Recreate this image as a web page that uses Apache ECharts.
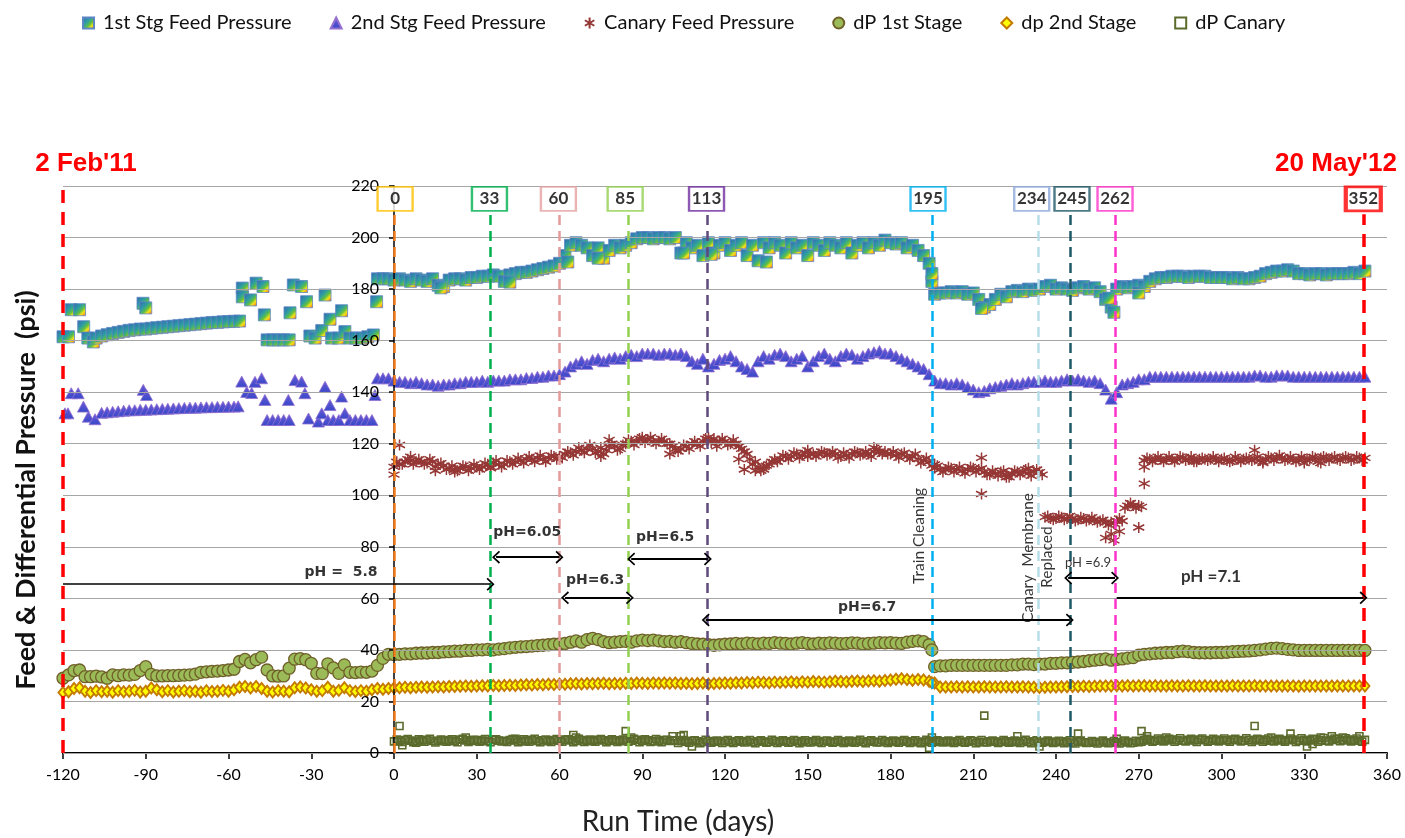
<!DOCTYPE html>
<html>
<head>
<meta charset="utf-8">
<title>Feed &amp; Differential Pressure</title>
<script src="https://cdn.jsdelivr.net/npm/echarts@6.0.0/dist/echarts.min.js"></script>
<style>
  html, body { margin: 0; padding: 0; background: #fff; }
  #chart { width: 1405px; height: 838px; }
</style>
</head>
<body>
<div id="chart"></div>
<script>
// ---- values ----
// run days sampled every 2 days after day 0
const runDays = [
  0,2,4,6,8,10,12,14,16,18, 20,22,24,26,28,30,32,34,36,38,
  40,42,44,46,48,50,52,54,56,58, 60,62,64,66,68,70,72,74,76,78,
  80,82,84,86,88,90,92,94,96,98, 100,102,104,106,108,110,112,114,116,118,
  120,122,124,126,128,130,132,134,136,138, 140,142,144,146,148,150,152,154,156,158,
  160,162,164,166,168,170,172,174,176,178, 180,182,184,186,188,190,192,194,196,198,
  200,202,204,206,208,210,212,214,216,218, 220,222,224,226,228,230,232,234,236,238,
  240,242,244,246,248,250,252,254,256,258, 260,262,264,266,268,270,272,274,276,278,
  280,282,284,286,288,290,292,294,296,298, 300,302,304,306,308,310,312,314,316,318,
  320,322,324,326,328,330,332,334,336,338, 340,342,344,346,348,350,352
];
// the in-between days, where the canary readings are denser
const oddDays = [
  1,3,5,7,9,11,13,15,17,19, 21,23,25,27,29,31,33,35,37,39,
  41,43,45,47,49,51,53,55,57,59, 61,63,65,67,69,71,73,75,77,79,
  81,83,85,87,89,91,93,95,97,99, 101,103,105,107,109,111,113,115,117,119,
  121,123,125,127,129,131,133,135,137,139, 141,143,145,147,149,151,153,155,157,159,
  161,163,165,167,169,171,173,175,177,179, 181,183,185,187,189,191,193,195,197,199,
  201,203,205,207,209,211,213,215,217,219, 221,223,225,227,229,231,233,235,237,239,
  241,243,245,247,249,251,253,255,257,259, 261,263,265,267,269,271,273,275,277,279,
  281,283,285,287,289,291,293,295,297,299, 301,303,305,307,309,311,313,315,317,319,
  321,323,325,327,329,331,333,335,337,339, 341,343,345,347,349,351
];
// days before day 0 (differential pressures only)
const preDays = [
  -120,-118,-116,-114,-112,-110,-108,-106,-104,-102, -100,-98,-96,-94,-92,-90,-88,-86,-84,-82,
  -80,-78,-76,-74,-72,-70,-68,-66,-64,-62, -60,-58,-56,-54,-52,-50,-48,-46,-44,-42,
  -40,-38,-36,-34,-32,-30,-28,-26,-24,-22, -20,-18,-16,-14,-12,-10,-8,-6,-4,-2
];

const stg1Feed = [
  183.5,184,183.5,183,184,183.5,183,184,181.5,181, 183.5,184,184,183.5,184.5,184.5,185,185,185.5,185,
  183,185.5,186,186.5,186.5,187,187.5,188,188.5,189, 190,193,197,198,197,196,193,196,192,195,
  197,196,197,198,199.5,200,200,199.5,200,200, 199.5,200,194,198,196,197,193,198,194,197,
  198,195,197,198,193,197,191,198,196,198, 197,194,198,196,197,193,198,197,195,198,
  197,196,198,194,197,198,196,198,197,199, 198,197.5,198,196,197,195,193,190,178,178.5,
  178.5,179,178.5,179,178,178.5,176,173,174,176, 178,177,179,179.5,179,180,179.5,180,181,181.5,
  180,180.5,180,179.5,180.5,181,180,180.5,179,176, 173,180,181,180.5,181,181.5,181,183,184,184.5,
  184.5,185,185,185,184.5,185,185,185,184.5,184.5, 184.5,184.5,184,184.5,184,184,184.5,185,186,186.5,
  187,187,187.5,187,186,186,185.5,186,186,185.5, 186,186,186,186,186.5,186,187
];
const stg1Pre = [
  [-120,161.5],[-118,161.5],[-117,172],[-114,172],[-112.5,165.4],[-111,161],[-109,159.5],[-108,161],
  [-106,161.8],[-104,162.3],[-102,162.8],[-100,163.2],[-98,163.6],[-96,164],[-94,164.2],[-92,164.5],
  [-91,174.5],[-90,172.7],[-90,164.5],[-88,164.8],[-86,165],[-84,165.2],[-82,165.4],[-80,165.6],
  [-78,165.8],[-76,166],[-74,166.2],[-72,166.4],[-70,166.6],[-68,166.8],[-66,167],[-64,167.1],
  [-62,167.3],[-60,167.4],[-58,167.5],[-56,167.6],[-55,180.4],[-55,177],[-52,175.8],[-50,182.3],
  [-47.5,181],[-47,170],[-46,160.3],[-44,160.3],[-42,160.3],[-40,160.3],[-38,160.3],[-37.7,170.8],
  [-36.5,181.6],[-33.5,181],[-31.7,175.1],[-30.5,161.8],[-28.6,161],[-26.2,163.9],[-25,177.7],
  [-23.2,168.3],[-22.6,161],[-20.2,161],[-19,171.6],[-17.8,163.5],[-16,161],[-14,161],[-11.7,161],
  [-9.5,161.5],[-7.5,162.2],[-6.3,175.1],[-6,184],[-4,184],[-2,184]
];
const stg1Extra = [
  [17,180.5],[42,182.7],[63,190.5],[74,192],[105,194],[115,193.5],[135,190.5],[195,183],
  [195,186],[213,172.5],[259,176.5],[261,171],[270,178.5]
];

const stg2Feed = [
  144.5,144,144,143.5,144,143.5,143,143,142.5,143, 143,143.5,143.5,144,144,144,144.5,144,144.5,144.5,
  144.5,145,145,145,145.5,145.5,146,146,146.5,146.5, 147,148,150,151,152,151,152.5,153,152,153,
  153.5,153,154,154.5,154,155,155,155,154.5,155, 155,154.5,155,154,152,151,153,150,151,152.5,
  153,154,152,150,149,148,152,154,153,154.5, 155,154,152,153,154,150,152,154,155,153,
  152,154,155,154.5,153,154,155,155.5,156,155, 155,154,153,152,151,150,149,147,144.5,143.5,
  143.5,143,143.5,143,142,141,140,140.5,141.5,142, 142.5,143,143.5,143,143.5,144,144,144,144.5,144,
  144,144.5,145,144.5,145,144.5,144,144.5,143.5,141, 137.5,140,143,143.5,144,145,145,146,146,146,
  146,146,146,146,146,146,146,146,146,146, 146,146,146,146,146,146,146.5,146.5,146,146,
  146.5,146.5,146.5,146,146,146,146,146,146,146, 146,146,146,146,146,146,146
];
const stg2Pre = [
  [-119.3,131.8],[-118.2,131.8],[-117,139.6],[-114.5,139.6],[-112.6,134.4],[-110.8,130.5],[-108.4,129.5],
  [-106,132],[-104,132.2],[-102,132.4],[-100,132.6],[-98,132.8],[-96,133],[-94,133],[-92,133.2],
  [-90.9,140.9],[-89.7,138.9],[-90,133.2],[-88,133.3],[-86,133.4],[-84,133.5],[-82,133.6],[-80,133.7],
  [-78,133.8],[-76,133.9],[-74,134],[-72,134],[-70,134.1],[-68,134.2],[-66,134.2],[-64,134.3],
  [-62,134.3],[-60,134.4],[-58,134.4],[-56.5,134.5],[-55.2,144.1],[-53.4,140.1],[-51.6,139.7],
  [-50.4,144],[-48,145.4],[-46.8,137],[-46,129.2],[-44,129.2],[-42,129.2],[-40,129.2],[-38,129.2],
  [-38.3,137],[-35.9,144.7],[-33.5,144.1],[-32.3,139.6],[-31,129.8],[-27.4,128.6],[-26.2,131.8],
  [-25,142.1],[-24,129.2],[-23.2,135],[-22,129.2],[-20,129.2],[-19,138.3],[-17.8,131.8],[-16,129.2],
  [-14,129.2],[-12,129.2],[-10,129.2],[-8,129.2],[-6.9,138.9],[-6,145.4],[-4,145.4],[-2,145.4]
];

const canaryFeed = [
  111,112,113,113.5,113,113,112.5,113,112,111.5, 110.5,110,110.5,111,110.5,111,111,112,112.5,112,
  112,113,113,113.5,114,114,114.5,114,114.5,115, 115,116,116.5,117,117.5,118,118,117,116,119,
  119,118,120,121,121,121.5,121.5,121,121,121, 120,118,118,119,120,120,121,121.5,122,121,
  121,120,120,118,116,112,111,110,112,114, 114,115,115,116,115.5,115,116,116,116.5,116,
  116,115,115.5,116,116.5,116,116,117,117,117, 116,115.5,116,115,115,114,113.5,113,110.5,110,
  110,110.5,110,109.5,110,110.5,110,109,108,108.5, 109,108,108.5,109,109,108.5,109,109,91.5,91,
  91,91.5,91,91,90.5,91,90.5,90.5,90,89.5, 89.5,90,90,96,96,96,113.5,114,114,114,
  114,114,114,114.5,114,114,114,114,114,114, 114,113.5,113.5,114,114,114,114,113.5,114,114.5,
  114.5,114.5,114,114,114,114,114,114.5,114.5,114.5, 114.5,114,114.5,114.5,114,114.5,114.5
];
const canaryFeedOdd = [
  113,112,114,112,114,112,114,111,112.5,110, 111.5,109.5,111.5,109.5,112,110,112.5,111,113.5,111,
  113.5,112,114.5,112.5,115,113,115.5,113,115.5,114, 114.5,117,115.5,118.5,116.5,119.5,116.5,118.5,117.5,120,
  117.5,119.5,121.5,119.5,122,120.5,122.5,120,122,120, 119,117,119.5,118,121,119,122,120.5,120.5,122,
  119.5,121.5,119,117,114,113,109.5,111.5,113,113, 115.5,114,116.5,114.5,116.5,116,115,117,115.5,117,
  114.5,116.5,114.5,117,115.5,117,115,118,116,116, 117,114.5,116.5,114,116,112.5,114.5,111.5,111.5,109,
  111,109,111,108.5,111,109,110.5,108,109.5,107.5, 109.5,107,109.5,108,110,107.5,110,108,92,90.5,
  92,90.5,92,90,91.5,90,91.5,89.5,90.5,88.5, 89,91,95,97,95,95.5,114.5,113,115,113,
  115,113,115,113.5,115,113,114.5,113.5,115,113, 114.5,113,115,113,114.5,113.5,115,113,115,113.5,
  115.5,113.5,115,113,115,113.5,115,113,115,113.5, 115,113.5,115,113.5,115,113.5
];
const canaryExtra = [
  [0,108],[2,119.5],[6,115],[15,109.5],[22,109],[35,110.5],[75,115],[78,121.5],[90,122.5],
  [100,116],[114,122.5],[117,119],[125,114],[127,110],[131,109.5],[134,111],[150,117.5],[174,118.5],
  [196,112],[213,114.5],[213,100.5],[222,107],[230,110.5],[258,83.5],[260,85],[261,82.5],[263,86],
  [270,87.5],[272,104.5],[272,111],[290,113],[312,117.5],[315,112.5],[330,112.5],[336,112.5]
];

const dp1 = [
  38.2,38.3,38.5,38.5,38.7,38.8,38.8,39,39,39.2, 39.3,39.5,39.5,39.8,39.8,40,40,40.2,40,40.3,
  40.5,40.8,41,41.2,41.3,41.5,41.7,41.8,42,42.2, 42.3,42.5,43,43.5,43,44,44.5,44,43.2,42.8,
  43,43.2,43.3,43,43.5,43.8,43.6,43.8,43.5,43.2, 43.3,43,43.2,42.8,42.5,42.3,42.2,42,41.8,42,
  42.2,42.3,42.5,42.3,42.6,42.5,42.3,42.6,42.5,42.8, 42.6,42.5,42.3,42.6,42.8,42.5,42.3,42.6,42.5,42.7,
  42.6,42.4,42.5,42.7,42.6,42.3,42.5,42.6,42.8,42.7, 42.8,42.6,42.5,43,43.3,43.5,43.2,42,33.5,33.8,
  33.8,34,34,34,34,34,34,34,34,34, 34,34,34.2,34.2,34.5,34.5,34.3,34.5,34.5,34.8,
  34.8,35,35,35.2,35.3,35.5,35.8,36,36.2,36.5, 36,36.3,36.5,36.8,37,38,38.3,38.5,38.7,38.8,
  39,39,39.3,39.5,39.3,39,38.9,38.9,38.9,39, 39,39.1,39.3,39.4,39.5,39.6,39.8,40,40.3,40.6,
  40.7,40.5,40.2,40,39.8,39.8,39.8,39.8,39.8,39.8, 39.8,39.8,39.8,39.8,39.8,39.8,39.8
];
const dp1Pre = [
  29,30.3,32,32.2,29.6,29.6,29.8,29.5,29,30.3, 30,30.3,30.2,30.5,32,33.5,30.5,29.9,29.9,30,
  30,30.1,30.2,30.3,30.6,31.3,31.5,31.7,31.8,32, 32.2,32.5,35.5,36.3,35,36.2,37.2,32.2,29.9,29.8,
  29.9,32.9,36.4,36.6,36.2,34.8,30.9,30.8,34.6,33, 30.9,34.2,31.3,31.2,31.4,31.3,31.8,34,36.7,38.3
];
const dp1Extra = [[195,40]];

const dp2 = [
  25.2,25.3,25.5,25.3,25.5,25.6,25.5,25.6,25.7,25.6, 25.8,25.8,25.9,26,25.9,26,26.1,26,26.2,26.1,
  26.2,26.3,26.2,26.4,26.5,26.4,26.6,26.5,26.7,26.6, 26.8,26.7,26.9,27,26.8,27,26.9,27,27.1,26.9,
  27,26.9,27.1,27,27.2,27.1,27,27.2,27.1,27.2, 27.1,27.2,27,27.1,26.9,27,27.2,26.8,27,27.1,
  27.2,27.1,27.3,27.2,27.4,27.3,27.5,27.4,27.3,27.5, 27.4,27.5,27.6,27.4,27.6,27.5,27.7,27.6,27.5,27.6,
  27.8,27.7,27.6,27.8,27.9,27.7,27.9,28,27.8,28.1, 28.3,28.6,28.8,28.5,28.2,28.5,28.3,27.8,27.2,25.6,
  25.6,25.6,25.7,25.6,25.7,25.6,25.6,25.7,25.6,25.6, 25.6,25.7,25.6,25.6,25.7,25.6,25.5,25.4,25.5,25.6,
  25.6,25.7,25.7,25.8,25.8,25.9,25.8,25.9,26,26, 26,26.1,26,26.1,26,26.1,26.1,26,26.1,26,
  26,26.1,26,26,26.1,26,26,26.1,26,26, 26,26,26.1,26,26,26,26.1,26,26,26,
  26,26,26,26,25.9,26,26,26,26,26, 26,26,26,26,26,26,26
];
const dp2Pre = [
  23.5,23.8,25,25.3,24,23.5,24.2,23.8,24,23.6, 24.2,23.8,24,24.3,23.7,24,25.2,24.5,23.8,24.2,
  23.7,24,24.2,23.8,24,23.6,24.2,23.9,24,24.3, 24,24.5,25.5,25.8,25.2,25.8,25,24,23.7,24.2,
  24,23.8,25.3,25.6,25.2,24.5,24,24.2,25.5,24, 24.3,25.3,24.2,23.9,24.2,24,24.5,25,24.7,25
];
const dp2Extra = [[195,27.3]];

const dpCanary = [
  4.5,4.6,5,4.8,4.5,4.9,5.1,4.7,4.6,5, 4.8,4.6,5.2,4.9,4.7,5,4.8,4.6,5.1,4.8,
  4.7,5,4.9,4.5,4.8,5.1,4.7,4.9,4.6,5, 4.8,5.2,4.9,4.7,5,4.8,4.6,5.1,4.9,4.7,
  4.9,4.6,5,4.8,5.1,4.7,4.9,4.5,4.8,5, 4.7,4.9,4.6,4.4,4.7,4.5,4.3,4.6,4.4,4.5,
  4.6,4.3,4.5,4.4,4.6,4.2,4.5,4.4,4.3,4.6, 4.4,4.5,4.3,4.6,4.4,4.2,4.5,4.3,4.6,4.4,
  4.3,4.5,4.2,4.4,4.6,4.3,4.5,4.4,4.2,4.5, 4.4,4.3,4.6,4.4,4.5,4.2,4.4,4.6,4.3,4.5,
  4.4,4.2,4.5,4.3,4.4,4.6,4.3,4.2,4.5,4.4, 4.3,4.5,4.4,4.2,4.6,4.3,4.5,4.1,4.3,4.4,
  4.2,4.5,4.3,4.1,4.4,4.2,4,4.3,4.1,4.2, 4,4.2,4.1,4.3,4,4.2,4.9,5,4.8,5.1,
  4.9,5.2,5,4.8,5.1,4.9,5.2,5,4.8,5.1, 5,4.9,5.2,5,4.8,5.1,4.9,5.2,5,4.8,
  5.1,4.9,5,5.2,4.8,5.1,4.9,5.3,5,4.8, 5.1,5.4,4.9,5.2,5,4.8,5.1
];
const dpCanaryOdd = [
  5.2,4.3,5.4,4.2,5.3,4.4,5.5,4.1,5.2,4.4, 5.3,4.2,5.5,4.3,5.1,4.4,5.4,4.2,5.3,4.5,
  4.3,5.4,4.2,5.3,4.4,5.5,4.2,5.2,4.3,5.4, 4.4,5.3,4.2,5.5,4.3,5.2,4.4,5.4,4.2,5.3,
  4.3,5.2,4.4,5.5,4.2,5.3,4.3,5.4,4.2,5.1, 4.8,3.9,5,4,4.9,3.8,5.1,4,4.8,3.9,
  5,3.9,4.9,4.1,5,3.8,4.9,4,5.1,3.9, 4.9,4,5,3.8,4.9,4.1,5,3.9,4.8,4,
  5,3.9,4.8,4,5.1,3.8,4.9,4.1,5,3.9, 4.8,4,5,3.9,4.9,3.8,5.1,4,4.9,4.1,
  4.8,3.9,5,4,4.9,3.8,5,4.1,4.8,3.9, 5,4,4.8,3.9,5.1,3.8,4.9,4,4.8,3.9,
  4.7,3.8,4.9,3.7,4.8,3.9,4.6,3.7,4.8,3.8, 4.6,3.7,4.8,3.8,4.7,4.4,5.5,4.4,5.6,4.5,
  5.5,4.4,5.7,4.5,5.5,4.3,5.6,4.4,5.5,4.5, 5.6,4.4,5.5,4.5,5.7,4.3,5.5,4.4,5.6,4.5,
  5.5,4.4,5.6,4.3,5.7,4.5,5.5,4.4,5.8,4.5, 5.6,4.6,5.7,4.5,5.6,4.4
];
const dpCanaryExtra = [
  [2,10.5],[3,3],[8,4],[26,6],[44,5.5],[65,7],[66,6],[84,8.5],[86,6],[101,6.5],[104,6.5],[105,7],
  [108,2.5],[194,2],[195,6],[214,14.5],[226,6.5],[234,2.5],[248,7.5],[262,5.5],[271,8.5],[273,6.5],
  [280,6],[312,10.5],[318,6],[325,7.5],[331,2.5],[333,3.5],[336,6],[340,6.5],[344,6],[350,6.5]
];

// event markers (vertical dashed lines and their day boxes)
const eventDays = [-120, 0, 35, 60, 85, 113.5, 195, 233.5, 245, 261.5, 351.5];
const eventTops = [219, 210.5, 210.5, 210.5, 210.5, 210.5, 210.5, 210.5, 210.5, 210.5, 209];
const boxDays = [0.4, 34.6, 59.6, 83.8, 113.3, 193.6, 231.2, 245.8, 261.4, 351.4];
const boxLabels = ['0', '33', '60', '85', '113', '195', '234', '245', '262', '352'];
const boxLevel = 215;

// pH periods (arrows)
const arrowFrom = [-120, 37, 62, 86, 113, 244.4, 262];
const arrowTo = [35, 60, 85.5, 113.8, 245, 261.4, 351.5];
const arrowLevel = [65.5, 76, 60.2, 75.3, 51.6, 67.9, 60.2];
const arrowBothEnds = [false, true, true, true, true, true, false];

// text notes
const noteDays = [-19.2, 48.3, 72.9, 98.3, 171.5, 251.6, 296.2, 190.4, 229.9, 236.8];
const noteVals = [70.2, 85.8, 67.1, 83.8, 56.7, 73.7, 68.3, 84.2, 75.7, 76];
const noteTexts = ['pH =  5.8', 'pH=6.05', 'pH=6.3', 'pH=6.5', 'pH=6.7', 'pH =6.9', 'pH =7.1',
  'Train Cleaning', 'Canary  Membrane', 'Replaced'];

// ---- styles ----
const eventColors = ['#ff0000', '#f07c1d', '#00b050', '#e39b9b', '#92d050', '#604a7b',
  '#00b0f0', '#b7dee8', '#215967', '#ff33cc', '#ff0000'];
const boxColors = ['#ffc000', '#00b050', '#e6a1a1', '#92d050', '#7030a0', '#00b0f0',
  '#8ea9db', '#215968', '#ff33cc', '#ff0000'];
const pHBold = { fontFamily: 'DejaVu Sans', fontWeight: 'bold', fontSize: 14 };
const noteStyles = [
  pHBold, pHBold, pHBold, pHBold, pHBold,
  { fontFamily: 'Lato', fontWeight: 'normal', fontSize: 13 },
  { fontFamily: 'Lato', fontWeight: 'bold', fontSize: 17 },
  { fontFamily: 'Lato', fontSize: 15.5, rotate: 90 },
  { fontFamily: 'Lato', fontSize: 15.5, rotate: 90 },
  { fontFamily: 'Lato', fontSize: 15.5, rotate: 90 }
];
const chevron = 'path://M6,0L12,6.5L10.8,7.6L6,2.3L1.2,7.6L0,6.5Z';
const asterisk = 'path://M5,0L5,10M0.7,2.5L9.3,7.5M9.3,2.5L0.7,7.5';
const FONT = 'Lato, "Liberation Sans", sans-serif';
const GRID_LEFT = 63;

const pairs = (xs, ys) => xs.map((x, i) => [x, ys[i]]);

const chart = echarts.init(document.getElementById('chart'));

const rainbow = new echarts.graphic.LinearGradient(0, 0, 1, 1, [
  { offset: 0, color: '#3565b5' },
  { offset: 0.4, color: '#2ea0a0' },
  { offset: 0.6, color: '#62c040' },
  { offset: 0.75, color: '#f2e31a' },
  { offset: 0.88, color: '#f79a1d' },
  { offset: 1, color: '#e53b25' }
]);
const violet = new echarts.graphic.LinearGradient(0, 0, 0, 1, [
  { offset: 0, color: '#6f5ad6' },
  { offset: 1, color: '#3548c8' }
]);

const eventLines = eventDays.map((d, i) => {
  const red = eventColors[i] === '#ff0000';
  return [
    { coord: [d, 0], lineStyle: { color: eventColors[i], width: red ? 3.5 : 2.5, type: red ? [13, 9] : [10, 6] } },
    { coord: [d, eventTops[i]] }
  ];
});
const arrowLines = arrowFrom.map((x, i) => [
  { coord: [x, arrowLevel[i]], symbol: arrowBothEnds[i] ? chevron : 'none', symbolSize: [13, 8],
    lineStyle: { color: '#000', width: i === 0 ? 1.6 : 2, type: 'solid' } },
  { coord: [arrowTo[i], arrowLevel[i]], symbol: chevron, symbolSize: [13, 8] }
]);

const option = {
  animation: false,
  backgroundColor: '#fff',
  grid: { left: GRID_LEFT, right: 18, top: 186, bottom: 85, outerBoundsMode: 'none' },
  legend: {
    top: 8,
    left: 77,
    itemGap: 38,
    itemWidth: 11,
    itemHeight: 11,
    textStyle: { fontFamily: FONT, fontSize: 20, color: '#111', padding: [0, 0, 0, 4] },
    data: ['1st Stg Feed Pressure', '2nd Stg Feed Pressure', 'Canary Feed Pressure',
      'dP 1st Stage', 'dp 2nd Stage', 'dP Canary']
  },
  xAxis: {
    type: 'value',
    min: -120, max: 360, interval: 30,
    axisLine: { show: true, onZero: false, lineStyle: { color: '#000', width: 2 } },
    axisTick: { show: true, length: 6, lineStyle: { color: '#000', width: 1.5 } },
    axisLabel: { color: '#000', fontFamily: FONT, fontSize: 16, margin: 14, showMinLabel: true, showMaxLabel: true },
    splitLine: { show: false }
  },
  yAxis: {
    type: 'value',
    z: 6,
    min: 0, max: 220, interval: 20,
    offset: 0,
    axisLine: { show: true, onZero: false, lineStyle: { color: '#000', width: 1.5 } },
    axisTick: { show: true, length: 5, lineStyle: { color: '#000', width: 1.5 } },
    axisLabel: { color: '#000', fontFamily: FONT, fontSize: 16, margin: 15 },
    splitLine: { show: true, lineStyle: { color: '#a6a6a6', width: 1 } }
  },
  graphic: [
    { type: 'text', x: 26, y: 490, rotation: Math.PI / 2,
      style: { text: 'Feed & Differential Pressure  (psi)', fill: '#111', font: 'bold 27px ' + FONT,
        textAlign: 'center', textVerticalAlign: 'middle' } },
    { type: 'text', x: 678, y: 822,
      style: { text: 'Run Time (days)', fill: '#222', font: '28px ' + FONT,
        textAlign: 'center', textVerticalAlign: 'middle' } },
    { type: 'text', x: 86, y: 164,
      style: { text: "2 Feb'11", fill: '#ff0000', font: 'bold 26px "Liberation Sans", Arial, sans-serif',
        textAlign: 'center', textVerticalAlign: 'middle' } },
    { type: 'text', x: 1336, y: 164,
      style: { text: "20 May'12", fill: '#ff0000', font: 'bold 26px "Liberation Sans", Arial, sans-serif',
        textAlign: 'center', textVerticalAlign: 'middle' } }
  ],
  series: [
    {
      name: '1st Stg Feed Pressure', type: 'scatter', symbol: 'rect', symbolSize: 12,
      itemStyle: { color: rainbow, borderColor: '#5d86c5', borderWidth: 0.8, opacity: 1 },
      data: stg1Pre.concat(pairs(runDays, stg1Feed), stg1Extra)
    },
    {
      name: '2nd Stg Feed Pressure', type: 'scatter', symbol: 'triangle', symbolSize: [12, 11],
      itemStyle: { color: violet, borderColor: '#9470d0', borderWidth: 0.8, opacity: 1 },
      data: stg2Pre.concat(pairs(runDays, stg2Feed))
    },
    {
      name: 'Canary Feed Pressure', type: 'scatter', symbol: asterisk, symbolSize: 11,
      itemStyle: { color: '#953735', borderColor: '#953735', borderWidth: 1.5, opacity: 1 },
      data: pairs(runDays, canaryFeed).concat(pairs(oddDays, canaryFeedOdd), canaryExtra)
    },
    {
      name: 'dP 1st Stage', type: 'scatter', symbol: 'circle', symbolSize: 12,
      itemStyle: { color: '#9bbb59', borderColor: '#6f5f28', borderWidth: 1.3, opacity: 1 },
      data: pairs(preDays, dp1Pre).concat(pairs(runDays, dp1), dp1Extra)
    },
    {
      name: 'dp 2nd Stage', type: 'scatter', symbol: 'diamond', symbolSize: [9, 11],
      itemStyle: { color: '#ffff00', borderColor: '#c47a00', borderWidth: 1.9, opacity: 1 },
      data: pairs(preDays, dp2Pre).concat(pairs(runDays, dp2), dp2Extra)
    },
    {
      name: 'dP Canary', type: 'scatter', symbol: 'rect', symbolSize: 7,
      itemStyle: { color: 'rgba(255,255,255,0)', borderColor: '#5b6b2c', borderWidth: 1.6, opacity: 1 },
      data: pairs(runDays, dpCanary).concat(pairs(oddDays, dpCanaryOdd), dpCanaryExtra)
    },
    {
      name: 'events', type: 'scatter', z: 10, silent: true,
      symbol: 'rect', symbolSize: [35, 24],
      data: boxDays.map((d, i) => ({
        value: [d, boxLevel],
        itemStyle: { color: '#fff', borderColor: boxColors[i], borderWidth: boxLabels[i] === '352' ? 3.5 : 2 }
      })),
      label: {
        show: true, position: 'inside', color: '#000', fontFamily: FONT, fontSize: 17, fontWeight: 'bold',
        formatter: p => boxLabels[p.dataIndex]
      },
      markLine: {
        z: 9,
        silent: true, animation: false, symbol: 'none', symbolSize: [13, 8],
        label: { show: false },
        data: eventLines.concat(arrowLines)
      }
    },
    {
      name: 'notes', type: 'scatter', z: 11, silent: true, symbolSize: 1,
      itemStyle: { color: 'rgba(0,0,0,0)' },
      data: noteDays.map((d, i) => ({
        value: [d, noteVals[i]],
        label: Object.assign({ show: true, position: 'inside', color: '#000',
          formatter: noteTexts[i] }, noteStyles[i])
      }))
    }
  ]
};

chart.setOption(option);
// put the value axis (line, ticks and labels) on day 0, as in the original
const zeroX = chart.convertToPixel({ xAxisIndex: 0 }, 0);
chart.setOption({ yAxis: { offset: -(zeroX - GRID_LEFT) } });
</script>
</body>
</html>
